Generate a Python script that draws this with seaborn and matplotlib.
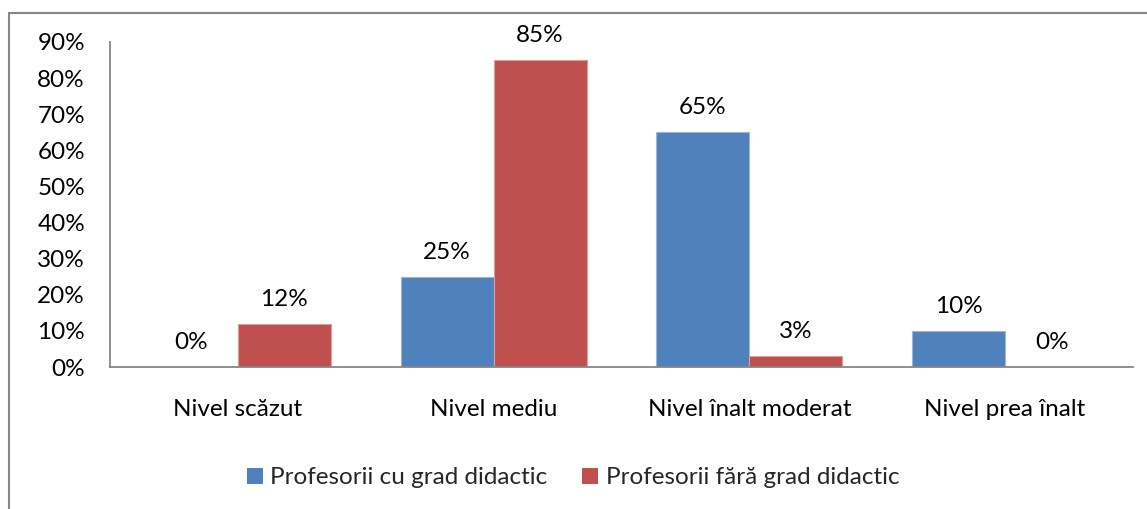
import matplotlib
matplotlib.use("Agg")
import matplotlib.pyplot as plt
import seaborn as sns
import pandas as pd
from matplotlib.patches import Rectangle

categories = ["Nivel scăzut", "Nivel mediu", "Nivel înalt moderat", "Nivel prea înalt"]
series_names = ["Profesorii cu grad didactic", "Profesorii fără grad didactic"]
cu_grad = [0.00, 0.25, 0.65, 0.10]
fara_grad = [0.12, 0.85, 0.03, 0.00]
y_ticks = [0.0, 0.1, 0.2, 0.3, 0.4, 0.5, 0.6, 0.7, 0.8, 0.9]
y_tick_labels = ["0%", "10%", "20%", "30%", "40%", "50%", "60%", "70%", "80%", "90%"]

colors = ["#4F81BD", "#C0504D"]
edge_colors = ["#9DB6DA", "#DE9C9A"]
font_size = 17.5

df = pd.DataFrame({
    "Nivel": categories * 2,
    "Grup": [series_names[0]] * 4 + [series_names[1]] * 4,
    "Valoare": cu_grad + fara_grad,
})

sns.set_theme(style="white")
plt.rcParams["font.family"] = ["Lato", "DejaVu Sans"]

fig = plt.figure(figsize=(11.47, 5.09), dpi=100)
ax = fig.add_axes([110 / 1147, 1 - 367 / 509, (1133 - 110) / 1147, (367 - 42) / 509])

sns.barplot(data=df, x="Nivel", y="Valoare", hue="Grup", order=categories,
            hue_order=series_names, palette=colors, width=0.727,
            saturation=1, legend=False, ax=ax, linewidth=0.8)

# light outline per series, Excel-style
for container, ec in zip(ax.containers, edge_colors):
    for bar in container:
        bar.set_edgecolor(ec)
    labels = [f"{round(v * 100):d}%" for v in container.datavalues]
    ax.bar_label(container, labels=labels, padding=10, fontsize=font_size, color="#000000")

ax.set_ylim(0, 0.9)
ax.set_xlim(-0.5, 3.5)
ax.set_yticks(y_ticks)
ax.set_yticklabels(y_tick_labels)
ax.set_xlabel("")
ax.set_ylabel("")
ax.tick_params(axis="y", length=0, pad=18, labelsize=font_size, labelcolor="#000000")
ax.tick_params(axis="x", length=0, pad=23, labelsize=font_size, labelcolor="#000000")
for lbl in ax.get_yticklabels():
    lbl.set_horizontalalignment("right")

for side in ["top", "right"]:
    ax.spines[side].set_visible(False)
for side in ["left", "bottom"]:
    ax.spines[side].set_color("#868686")
    ax.spines[side].set_linewidth(1.3)

# legend below the plot
handles = [Rectangle((0, 0), 1, 1, facecolor=c, edgecolor="none") for c in colors]
fig.legend(handles, series_names, loc="center", bbox_to_anchor=(573 / 1147, 1 - 478 / 509),
           ncol=2, frameon=False, fontsize=font_size, handlelength=0.65, handleheight=0.65,
           handletextpad=0.3, columnspacing=1.45, borderaxespad=0)

# chart-area frame
fig.patches.append(Rectangle((9 / 1147, -0.02), 1.1, (1 - 13 / 509) + 0.02,
                             transform=fig.transFigure, fill=False,
                             edgecolor="#868686", linewidth=1.5))

fig.savefig("out.png", dpi=100, facecolor="white")
